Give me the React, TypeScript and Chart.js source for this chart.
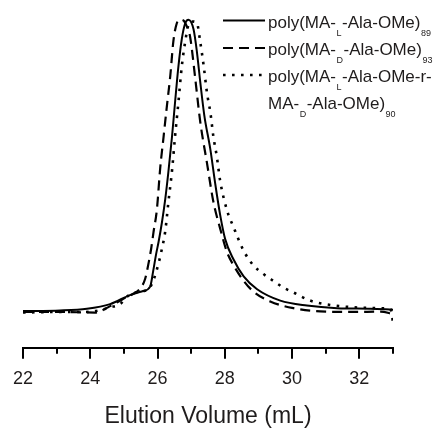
import React, { useEffect, useRef } from "react";
import { Chart, registerables } from "chart.js";

Chart.register(...registerables);

// Elution volume (mL) and normalized RI response
const solidX = [22.0, 23.1, 23.9, 24.59, 25.18, 25.57, 25.78, 25.87, 25.96, 26.03, 26.13, 26.23, 26.32, 26.43, 26.52, 26.62, 26.72, 26.82, 26.92, 27.07, 27.17, 27.27, 27.39, 27.57, 27.71, 27.86, 28.01, 28.26, 28.56, 28.96, 29.65, 30.44, 31.34, 32.33, 33.0];
const solidY = [0, 0.002, 0.008, 0.024, 0.055, 0.069, 0.084, 0.137, 0.197, 0.237, 0.304, 0.385, 0.475, 0.599, 0.716, 0.839, 0.933, 0.987, 1.0, 0.967, 0.89, 0.786, 0.672, 0.555, 0.441, 0.331, 0.247, 0.177, 0.119, 0.075, 0.036, 0.019, 0.01, 0.008, 0.005];

const dashedX = [22.0, 23.1, 24.14, 24.59, 24.95, 25.24, 25.48, 25.63, 25.72, 25.81, 25.88, 25.98, 26.08, 26.18, 26.28, 26.38, 26.47, 26.57, 26.67, 26.76, 26.87, 26.97, 27.12, 27.27, 27.47, 27.66, 27.86, 28.06, 28.26, 28.56, 28.85, 29.35, 30.04, 30.84, 31.83, 32.63, 33.0];
const dashedY = [-0.003, -0.003, -0.005, 0.017, 0.04, 0.057, 0.077, 0.11, 0.157, 0.214, 0.271, 0.348, 0.492, 0.599, 0.706, 0.809, 0.926, 0.987, 1.0, 0.998, 0.977, 0.94, 0.799, 0.649, 0.508, 0.375, 0.284, 0.204, 0.157, 0.104, 0.067, 0.033, 0.01, -0.001, -0.003, -0.002, -0.01];

const dottedX = [22.0, 23.1, 23.85, 24.29, 24.59, 24.89, 25.13, 25.48, 25.73, 25.88, 26.03, 26.13, 26.23, 26.32, 26.43, 26.52, 26.62, 26.72, 26.82, 26.92, 27.02, 27.17, 27.27, 27.37, 27.47, 27.57, 27.66, 27.76, 27.86, 28.06, 28.26, 28.56, 28.85, 29.15, 29.45, 29.75, 30.04, 30.54, 31.14, 31.83, 32.63, 32.92, 33.0];
const dottedY = [-0.005, -0.003, -0.003, 0.003, 0.013, 0.024, 0.053, 0.067, 0.075, 0.107, 0.164, 0.214, 0.275, 0.371, 0.482, 0.599, 0.716, 0.839, 0.923, 0.983, 0.994, 0.989, 0.923, 0.843, 0.749, 0.682, 0.599, 0.532, 0.448, 0.348, 0.288, 0.207, 0.157, 0.127, 0.103, 0.08, 0.064, 0.036, 0.021, 0.013, 0.01, 0.007, -0.037];

const xMin = 22;
const xMax = 33;
const xStep = 1;
const xTitle = "Elution Volume (mL)";

// legend text pieces: [text, isSubscript]
const legendRow1: [string, boolean][] = [["poly(MA-", false], ["L", true], ["-Ala-OMe)", false], ["89", true]];
const legendRow2: [string, boolean][] = [["poly(MA-", false], ["D", true], ["-Ala-OMe)", false], ["93", true]];
const legendRow3: [string, boolean][] = [["poly(MA-", false], ["L", true], ["-Ala-OMe-r-", false]];
const legendRow4: [string, boolean][] = [["MA-", false], ["D", true], ["-Ala-OMe)", false], ["90", true]];
const seriesLabels = ["poly(MA-L-Ala-OMe)89", "poly(MA-D-Ala-OMe)93", "poly(MA-L-Ala-OMe-r-MA-D-Ala-OMe)90"];

const FONT = "Arial, 'Liberation Sans', sans-serif";
const INK = "#1f1c1c";

const toPoints = (xs: number[], ys: number[]) => xs.map((x, i) => ({ x, y: ys[i] }));

const minorTicks = {
  id: "minorTicks",
  afterDraw(chart: any) {
    const sx = chart.scales.x;
    const ctx = chart.ctx;
    ctx.save();
    ctx.strokeStyle = "#000";
    ctx.lineWidth = 2;
    for (let v = xMin; v <= xMax; v += xStep) {
      if (v % 2 === 0) continue;
      const px = Math.round(sx.getPixelForValue(v));
      ctx.beginPath();
      ctx.moveTo(px, sx.top);
      ctx.lineTo(px, sx.top + 6);
      ctx.stroke();
    }
    ctx.restore();
  },
};

const customLegend = {
  id: "customLegend",
  afterDraw(chart: any) {
    const ctx = chart.ctx;
    const rows = [legendRow1, legendRow2, legendRow3, legendRow4];
    const baselines = [27.5, 55, 82, 109];
    const sampleX0 = 223;
    const sampleX1 = 265;
    const textX = 268;
    ctx.save();
    rows.forEach((row, i) => {
      const base = baselines[i];
      const ds = chart.data.datasets[i];
      if (ds) {
        ctx.beginPath();
        ctx.strokeStyle = ds.borderColor;
        ctx.lineWidth = ds.borderWidth;
        ctx.setLineDash(ds.borderDash || []);
        ctx.moveTo(sampleX0, base - 7);
        ctx.lineTo(sampleX1, base - 7);
        ctx.stroke();
        ctx.setLineDash([]);
      }
      let x = textX;
      ctx.fillStyle = INK;
      ctx.textBaseline = "alphabetic";
      ctx.textAlign = "left";
      row.forEach(([t, sub]) => {
        if (sub) {
          ctx.font = `9px ${FONT}`;
          ctx.fillText(t, x + 0.5, base + 8);
          x += ctx.measureText(t).width + 1;
        } else {
          ctx.font = `17px ${FONT}`;
          ctx.fillText(t, x, base);
          x += ctx.measureText(t).width;
        }
      });
    });
    ctx.restore();
  },
};

export default function App() {
  const ref = useRef<HTMLCanvasElement | null>(null);
  useEffect(() => {
    if (!ref.current) return;
    const chart = new Chart(ref.current, {
      type: "line",
      data: {
        datasets: [
          {
            label: seriesLabels[0],
            data: toPoints(solidX, solidY),
            borderColor: "#000",
            borderWidth: 2,
            pointRadius: 0,
            cubicInterpolationMode: "monotone",
            fill: false,
          },
          {
            label: seriesLabels[1],
            data: toPoints(dashedX, dashedY),
            borderColor: "#000",
            borderWidth: 2.2,
            borderDash: [10, 6],
            pointRadius: 0,
            cubicInterpolationMode: "monotone",
            fill: false,
          },
          {
            label: seriesLabels[2],
            data: toPoints(dottedX, dottedY),
            borderColor: "#000",
            borderWidth: 2.6,
            borderDash: [2.6, 6.4],
            pointRadius: 0,
            cubicInterpolationMode: "monotone",
            fill: false,
          },
        ],
      },
      options: {
        animation: false,
        responsive: false,
        maintainAspectRatio: false,
        layout: { padding: { left: 23, right: 44, top: 10, bottom: 0 } },
        plugins: { legend: { display: false }, tooltip: { enabled: false } },
        scales: {
          x: {
            type: "linear",
            min: xMin,
            max: xMax,
            position: "bottom",
            border: { display: true, color: "#000", width: 2 },
            grid: {
              drawOnChartArea: false,
              drawTicks: true,
              tickLength: 11,
              lineWidth: 2,
              tickWidth: 2,
              tickColor: (c: any) => (c.tick && c.tick.value % 2 === 0 ? "#000" : "rgba(0,0,0,0)"),
            },
            ticks: {
              stepSize: xStep,
              autoSkip: false,
              maxRotation: 0,
              padding: 9,
              color: INK,
              font: { family: FONT, size: 18 },
              callback: (v: any) => (Number(v) % 2 === 0 ? String(v) : ""),
            },
            title: {
              display: true,
              text: xTitle,
              color: INK,
              font: { family: FONT, size: 23 },
              padding: { top: 4, bottom: 0 },
            },
          },
          y: {
            type: "linear",
            display: false,
            min: -0.126,
            max: 1.0334,
          },
        },
      },
      plugins: [minorTicks, customLegend],
    });
    return () => chart.destroy();
  }, []);
  return (
    <div style={{ position: "fixed", left: 0, top: 0, width: 437, height: 430, background: "#fff" }}>
      <canvas ref={ref} width={437} height={430} style={{ display: "block" }} />
    </div>
  );
}
